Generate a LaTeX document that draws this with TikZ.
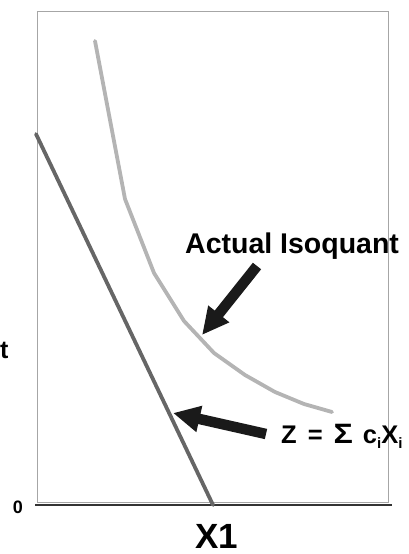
\documentclass[tikz,border=0pt]{standalone}
\usepackage{fontspec}
\setmainfont{Liberation Sans}
\usetikzlibrary{arrows.meta}
\definecolor{boxgray}{HTML}{A6A6A6}
\definecolor{darkline}{HTML}{666666}
\definecolor{lightline}{HTML}{B4B4B4}
\definecolor{axiscol}{HTML}{333333}
\definecolor{arrowfill}{HTML}{1A1A1A}
\newcommand{\subi}{\raisebox{-0.22em}{\fontsize{15}{15}\selectfont i}}
\tikzset{
  frame/.style={draw=boxgray, line width=1pt},
  axisline/.style={draw=axiscol, line width=2.2pt},
  budget/.style={draw=darkline, line width=3.8pt, line cap=round},
  isoquant/.style={draw=lightline, line width=3.8pt, line cap=round, line join=round},
  blockarrow/.style={draw=arrowfill, line width=10.5pt, -{Triangle[length=27pt,width=25pt]}},
  lbl/.style={inner sep=0pt, font=\bfseries},
}
\begin{document}
\begin{tikzpicture}[x=1pt,y=-1pt]
\useasboundingbox (0,0) rectangle (409,554);
% plot frame
\draw[frame] (37,11) rectangle (388,502);
% x axis
\coordinate (axL) at (35,505);
\coordinate (axR) at (392,505);
\draw[axisline] (axL) -- (axR);
% budget / linear line
\coordinate (bTop) at (36,134);
\coordinate (bBot) at (213,505);
\draw[budget] (bTop) -- (bBot);
% actual isoquant
\draw[isoquant] (95,41) -- (125,199) -- (154,273) -- (184,321) -- (214,353)
  -- (245,375) -- (275,392) -- (304,404) -- (332,412);
% labels
\node[lbl, anchor=base west, font=\bfseries\fontsize{28.5}{30}\selectfont] (lblIso) at (185,253) {Actual Isoquant};
\node[lbl, anchor=base west, font=\bfseries\fontsize{25.5}{28}\selectfont] (lblZ) at (281,443)
  {Z\hspace{11pt}=\hspace{11pt}\scalebox{1.15}[1]{\fontsize{28}{30}\selectfont Σ}\hspace{10pt}c\subi X\subi};
\node[lbl, anchor=base, font=\bfseries\fontsize{35}{38}\selectfont] (lblX1) at (216.5,548) {X1};
\node[lbl, anchor=base, font=\bfseries\fontsize{18}{20}\selectfont] (lbl0) at (18,513) {0};
\node[lbl, anchor=base west, font=\bfseries\fontsize{25}{28}\selectfont] (lblt) at (0,358) {t};
% arrows
\coordinate (a1tail) at (257,266);
\coordinate (a1tip) at (202,335);
\draw[blockarrow] (a1tail) -- (a1tip);
\coordinate (a2tail) at (266,434);
\coordinate (a2tip) at (173,413);
\draw[blockarrow] (a2tail) -- (a2tip);
\end{tikzpicture}
\end{document}
